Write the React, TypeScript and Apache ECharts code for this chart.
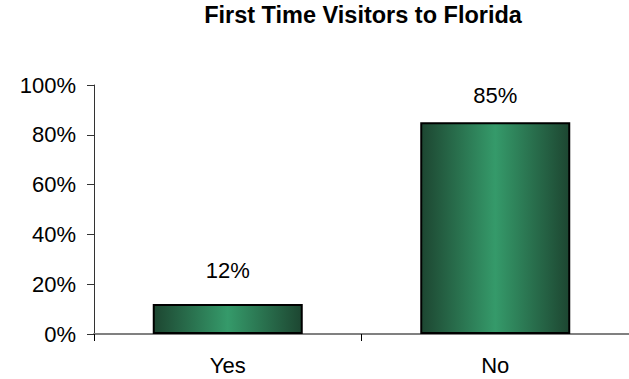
import React, { useEffect, useRef } from "react";
import * as echarts from "echarts";

const categories = ["Yes", "No"];
const values = [0.12, 0.85];
const labelDistances = [23, 16];
const titleText = "First Time Visitors to Florida";

const FONT = "Liberation Sans, Arial, sans-serif";

export default function App() {
  const ref = useRef<HTMLDivElement>(null);
  useEffect(() => {
    const chart = echarts.init(ref.current!, null, { renderer: "svg" });
    const grad = new echarts.graphic.LinearGradient(0, 0, 1, 0, [
      { offset: 0, color: "#1d4631" },
      { offset: 0.5, color: "#359a6a" },
      { offset: 1, color: "#1d4631" },
    ]);
    chart.setOption({
      animation: false,
      backgroundColor: "#ffffff",
      title: {
        text: titleText,
        left: 363,
        textAlign: "center",
        top: 3,
        padding: 0,
        textStyle: { fontFamily: FONT, fontSize: 23.5, fontWeight: "bold", color: "#000" },
      },
      grid: { left: 94, top: 85, right: 0, bottom: 45 },
      xAxis: {
        type: "category",
        data: categories,
        axisLine: { lineStyle: { color: "#808080", width: 2 } },
        axisTick: { show: true, length: 7, lineStyle: { color: "#000" } },
        axisLabel: { margin: 20, fontFamily: FONT, fontSize: 22, color: "#000" },
      },
      yAxis: {
        type: "value",
        min: 0,
        max: 1,
        interval: 0.2,
        splitLine: { show: false },
        axisLine: { show: true, lineStyle: { color: "#333", width: 1 } },
        axisTick: { show: true, length: 7, lineStyle: { color: "#333" } },
        axisLabel: {
          margin: 18,
          fontFamily: FONT,
          fontSize: 22,
          color: "#000",
          formatter: (v: number) => Math.round(v * 100) + "%",
        },
      },
      series: [
        {
          type: "bar",
          barWidth: 150,
          data: values.map((v, i) => ({
            value: v,
            label: { distance: labelDistances[i] },
          })),
          itemStyle: { color: grad, borderColor: "#000", borderWidth: 2 },
          label: {
            show: true,
            position: "top",
            fontFamily: FONT,
            fontSize: 22,
            color: "#000",
            formatter: (p: any) => Math.round(p.value * 100) + "%",
          },
        },
      ],
    });
    return () => chart.dispose();
  }, []);
  return (
    <div
      ref={ref}
      style={{ position: "fixed", left: 0, top: 0, width: 629, height: 379, background: "#fff" }}
    />
  );
}
